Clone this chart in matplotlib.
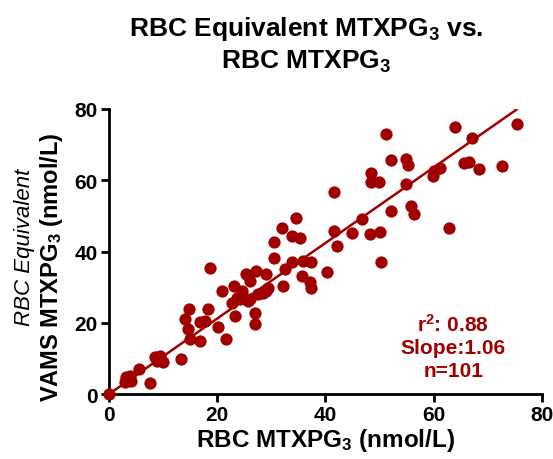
import numpy as np
import matplotlib
matplotlib.use("Agg")
import matplotlib.pyplot as plt

plt.rcParams['font.family'] = ['Liberation Sans', 'DejaVu Sans']
plt.rcParams['mathtext.fontset'] = 'custom'
plt.rcParams['mathtext.rm'] = 'Liberation Sans'
plt.rcParams['mathtext.bf'] = 'Liberation Sans:bold'
plt.rcParams['mathtext.it'] = 'Liberation Sans:italic'

# RBC MTXPG3 (x) vs VAMS RBC-equivalent MTXPG3 (y), nmol/L
rbc = [0, 2.9, 3.2, 4.1, 3.8, 5.6, 7.5, 8.5, 9.4, 10.0, 8.8, 13.4,
       14.0, 14.8, 14.6, 14.9, 16.8, 16.8, 17.7, 18.3, 18.6, 20.2, 21.6,
       20.8, 23.1, 22.7, 23.3, 23.6, 24.2, 24.5, 25.3, 26.1, 27.2, 26.1,
       27.6, 27.0, 27.0, 25.7, 28.5, 29.1, 29.1, 29.4, 30.5, 30.5, 31.9,
       32.2, 32.5, 33.8, 33.8, 34.6, 35.3, 35.6, 35.9, 37.3, 37.2, 37.3,
       40.3, 41.5, 41.5, 42.1, 44.9, 46.7, 48.5, 48.4, 49.9, 48.3, 50.1,
       50.3, 51.1, 52.1, 52.1, 54.8, 55.2, 54.8, 55.9, 56.4, 59.9, 60.0,
       61.2, 62.8, 64.0, 65.6, 66.5, 67.1, 68.3, 72.7, 75.3]
vams = [0, 3.3, 4.7, 3.7, 5.0, 7.0, 3.1, 10.3, 10.6, 9.0, 9.4, 9.8,
        21.0, 23.9, 18.2, 15.4, 15.0, 20.1, 20.6, 23.9, 35.3, 18.7, 15.6,
        28.8, 30.4, 25.7, 22.0, 27.1, 26.7, 29.0, 33.7, 31.8, 34.6, 26.7,
        28.1, 22.9, 19.6, 26.2, 28.5, 29.0, 33.7, 29.9, 38.1, 42.6, 46.5,
        30.2, 35.1, 37.0, 44.3, 49.3, 43.8, 33.2, 37.4, 37.1, 31.5, 29.9,
        34.2, 56.8, 45.7, 41.6, 45.2, 49.1, 62.0, 59.4, 59.4, 44.9, 45.6,
        37.2, 73.0, 65.7, 51.5, 66.0, 64.4, 59.0, 52.9, 50.5, 61.1, 62.7,
        63.4, 46.5, 74.9, 64.8, 65.2, 71.8, 63.2, 63.9, 75.8]
slope = 1.06
stats = ["r$^\\mathbf{2}$: 0.88", "Slope:1.06", "n=101"]

red = '#a00000'

fig = plt.figure(figsize=(5.53, 4.60), dpi=100)
ax = fig.add_axes([0.197, 0.141, 0.783, 0.62])

ax.scatter(rbc, vams, s=78, color=red, zorder=3, clip_on=False, linewidths=0)
xs = np.array([0, max(rbc)])
ax.plot(xs, slope * xs, color=red, lw=1.8, zorder=2)

ax.set_xlim(0, 80)
ax.set_ylim(0, 80)
ax.set_xticks([0, 20, 40, 60, 80])
ax.set_yticks([0, 20, 40, 60, 80])
for s in ['top', 'right']:
    ax.spines[s].set_visible(False)
for s in ['left', 'bottom']:
    ax.spines[s].set_linewidth(2)
ax.tick_params(width=2, length=6, labelsize=15, pad=2)
for lab in ax.get_xticklabels() + ax.get_yticklabels():
    lab.set_fontweight('bold')

ax.set_xlabel(r'RBC MTXPG$_\mathbf{3}$ (nmol/L)', fontsize=17.5,
              fontweight='bold', labelpad=1)

# two-line y label: italic first line, bold second line
fig.text(0.045, 0.463, 'RBC Equivalent', rotation=90, style='italic',
         fontsize=16, ha='center', va='center')
fig.text(0.093, 0.42, r'VAMS MTXPG$_\mathbf{3}$ (nmol/L)', rotation=90,
         fontweight='bold', fontsize=17, ha='center', va='center')

fig.text(0.553, 0.902, r'RBC Equivalent MTXPG$_\mathbf{3}$ vs.' + '\n' +
         r'RBC MTXPG$_\mathbf{3}$', ha='center', va='center',
         fontsize=19, fontweight='bold', linespacing=1.3)

ax.text(0.795, 0.168, '\n'.join(stats), transform=ax.transAxes, color=red,
        fontsize=15, fontweight='bold', ha='center', va='center',
        linespacing=1.25)

fig.savefig('out.png', dpi=100)
